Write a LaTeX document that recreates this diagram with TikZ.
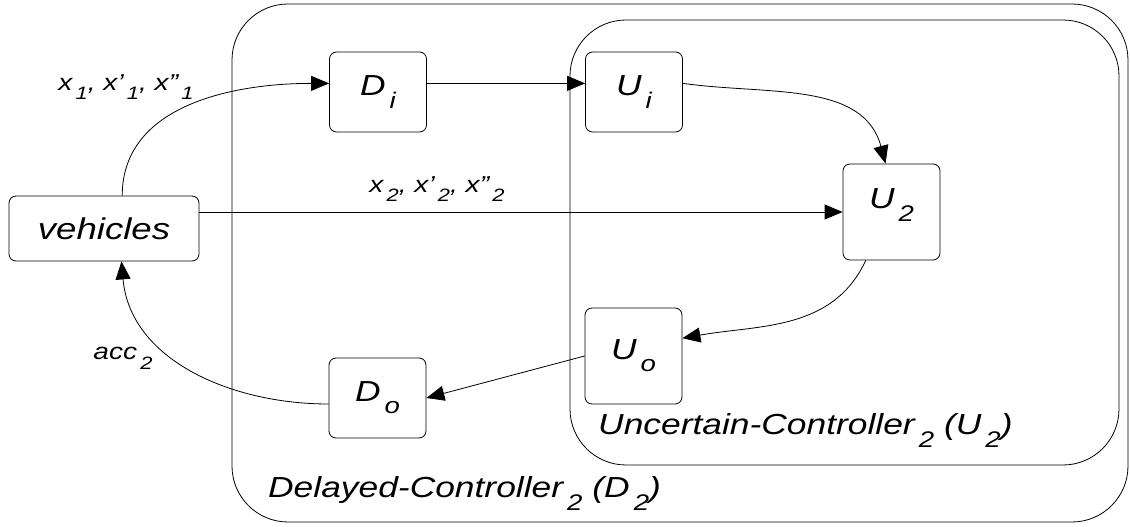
\documentclass[tikz,border=0pt]{standalone}
\usepackage{fontspec}
\setmainfont{Liberation Sans}[FakeStretch=1.22]
\usetikzlibrary{arrows.meta}
\newcommand{\lo}[1]{\hspace{0.14em}\raisebox{-0.42em}{\scalebox{0.78}{#1}}}

\begin{document}
\begin{tikzpicture}[x=1pt,y=1pt,
  block/.style={draw,line width=0.8pt,rounded corners=7pt,minimum width=97pt,minimum height=80pt,inner sep=0pt,font=\itshape\fontsize{29}{34}\selectfont},
  group/.style={draw,line width=0.8pt,rounded corners=56pt,inner sep=0pt},
  grouplabel/.style={anchor=base west,inner sep=0pt,font=\itshape\fontsize{29}{34}\selectfont},
  sig/.style={font=\itshape\fontsize{23}{28}\selectfont},
  flow/.style={-{Triangle[length=18pt,width=15pt]},line width=0.8pt}]

\useasboundingbox (0,0) rectangle (1130,527);

\node[group,minimum width=896pt,minimum height=518pt] (dctrl) at (680,264) {};
\node[group,minimum width=549pt,minimum height=445pt] (uctrl) at (844.5,284.5) {};

\node[block,minimum width=190pt,minimum height=65pt,font=\itshape\fontsize{30}{36}\selectfont] (vehicles) at (104,298.5) {vehicles};
\node[block] (Di) at (378,435) {D\lo{i}};
\node[block] (Ui) at (634,435) {U\lo{i}};
\node[block,minimum height=96pt,text depth=26pt] (U2) at (891.5,315) {U\lo{2}};
\node[block,minimum height=96pt] (Uo) at (633.5,171) {U\lo{o}};
\node[block] (Do) at (377.5,129) {D\lo{o}};

\node[grouplabel] (ulabel) at (598,92) {Uncertain-Controller\lo{2} (U\lo{2})};
\node[grouplabel] (dlabel) at (268,29) {Delayed-Controller\lo{2} (D\lo{2})};

\node[sig] (in1) at (126,440) {x\lo{1}, x'\lo{1}, x''\lo{1}};
\node[sig] (in2) at (437,338) {x\lo{2}, x'\lo{2}, x''\lo{2}};
\node[sig] (acc) at (123,169) {acc\lo{2}};

\path[flow] (vehicles.61) edge[out=90,in=180] (Di.170);
\path[flow] (Di.10) edge (Ui.170);
\path[flow] (Ui.10) edge[out=-8,in=105] (U2.97);
\path[flow] (vehicles.east |- U2.west) edge (U2.west);
\path[flow] (U2.-118) edge[out=-115,in=10] (Uo.20);
\path[flow] (Uo.west) edge (Do.east);
\path[flow] (Do.187) edge[out=180,in=-85] (vehicles.-62);

\end{tikzpicture}
\end{document}
